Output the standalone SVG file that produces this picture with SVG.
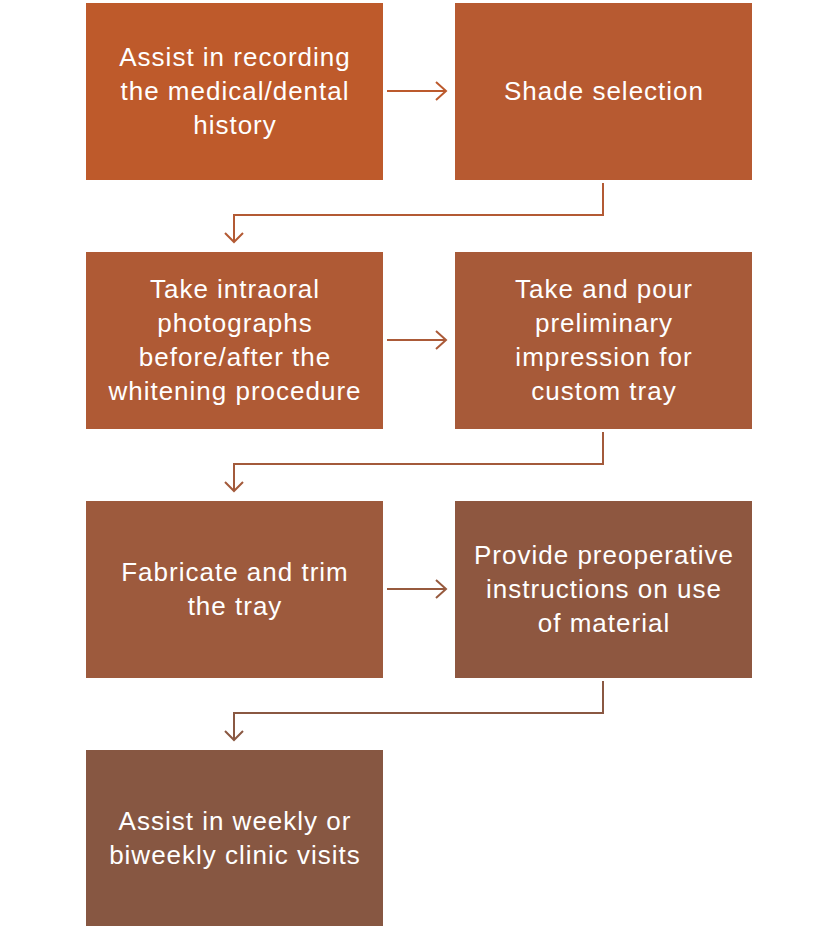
<svg xmlns="http://www.w3.org/2000/svg" width="837" height="929" viewBox="0 0 837 929">
<style>
text{font-family:"Liberation Sans",Arial,sans-serif;font-size:26px;letter-spacing:1px;fill:#fff;text-anchor:middle}
.c{fill:none;stroke-width:2}
</style>
<rect width="837" height="929" fill="#fff"/>
<g id="connectors">
<path class="c" stroke="#BC5A2D" d="M387 91H446M436 82L446 91L436 100"/>
<path class="c" stroke="#B35A34" d="M603 183V215H234V242M225 233L234 242L243 233"/>
<path class="c" stroke="#AB5A38" d="M387 340H446M436 331L446 340L436 349"/>
<path class="c" stroke="#A35A3B" d="M603 432V464H234V491M225 482L234 491L243 482"/>
<path class="c" stroke="#975A3E" d="M387 589H446M436 580L446 589L436 598"/>
<path class="c" stroke="#8A5842" d="M603 681V713H234V740M225 731L234 740L243 731"/>
</g>
<g id="n1"><rect x="86" y="3" width="297" height="177" fill="#BE5A2B"/>
<text x="235" y="66">Assist in recording</text><text x="235" y="100">the medical/dental</text><text x="235" y="134">history</text></g>
<g id="n2"><rect x="455" y="3" width="297" height="177" fill="#B75A31"/>
<text x="604" y="100">Shade selection</text></g>
<g id="n3"><rect x="86" y="252" width="297" height="177" fill="#AF5A35"/>
<text x="235" y="298">Take intraoral</text><text x="235" y="332">photographs</text><text x="235" y="366">before/after the</text><text x="235" y="400">whitening procedure</text></g>
<g id="n4"><rect x="455" y="252" width="297" height="177" fill="#A75A39"/>
<text x="604" y="298">Take and pour</text><text x="604" y="332">preliminary</text><text x="604" y="366">impression for</text><text x="604" y="400">custom tray</text></g>
<g id="n5"><rect x="86" y="501" width="297" height="177" fill="#9D5A3D"/>
<text x="235" y="581">Fabricate and trim</text><text x="235" y="615">the tray</text></g>
<g id="n6"><rect x="455" y="501" width="297" height="177" fill="#8E5740"/>
<text x="604" y="564">Provide preoperative</text><text x="604" y="598">instructions on use</text><text x="604" y="632">of material</text></g>
<g id="n7"><rect x="86" y="750" width="297" height="176" fill="#875742"/>
<text x="235" y="830">Assist in weekly or</text><text x="235" y="864">biweekly clinic visits</text></g>
</svg>
